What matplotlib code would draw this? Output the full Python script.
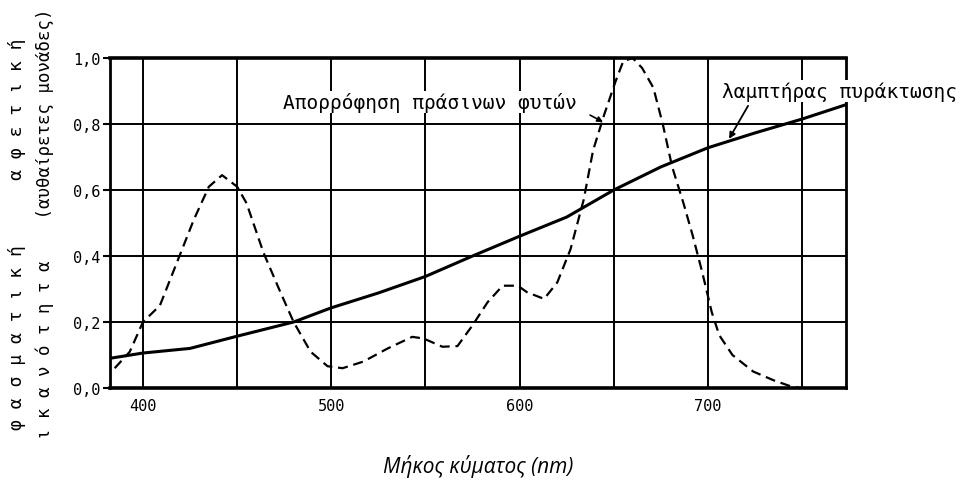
import matplotlib
matplotlib.use("Agg")
import matplotlib.pyplot as plt

# ---- data ----
wavelength_lamp = [382.5, 400, 425, 450, 480, 500, 525, 550, 575, 600, 625,
                   650, 675, 700, 725, 750, 773]
lamp = [0.09, 0.106, 0.12, 0.157, 0.20, 0.243, 0.288, 0.338, 0.40, 0.46,
        0.518, 0.60, 0.67, 0.728, 0.773, 0.815, 0.858]

wavelength_abs = [385, 393, 400, 409, 418, 427, 435, 442, 450, 455, 464, 473,
                  480, 489, 498, 506, 517, 530, 543, 549, 559, 567, 575, 583,
                  591, 599, 604, 613, 620, 627, 634, 639, 645, 651, 655, 660,
                  665, 671, 676, 681, 687, 692, 697, 702, 706, 713, 724, 735,
                  744, 749]
absorption = [0.06, 0.11, 0.20, 0.25, 0.38, 0.51, 0.61, 0.645, 0.61, 0.56,
              0.41, 0.29, 0.20, 0.11, 0.066, 0.06, 0.08, 0.12, 0.155, 0.15,
              0.125, 0.127, 0.19, 0.26, 0.31, 0.31, 0.29, 0.27, 0.32, 0.42,
              0.57, 0.72, 0.83, 0.93, 0.99, 1.0, 0.97, 0.91, 0.80, 0.67,
              0.56, 0.46, 0.35, 0.23, 0.16, 0.10, 0.05, 0.023, 0.005, 0.0]

xticks = [400, 500, 600, 700]
xtick_labels = ["400", "500", "600", "700"]
xgrid_minor = [450, 550, 650, 750]
yticks = [0.0, 0.2, 0.4, 0.6, 0.8, 1.0]
ytick_labels = ["0,0", "0,2", "0,4", "0,6", "0,8", "1,0"]

label_abs = "Απορρόφηση πράσινων φυτών"
label_lamp = "λαμπτήρας πυράκτωσης"
xlabel = "Μήκος κύματος (nm)"
ylabel_outer = "φ α σ μ α τ ι κ ή      α φ ε τ ι κ ή"
ylabel_inner = "ι κ α ν ό τ η τ α    (αυθαίρετες μονάδες)"

MONO = ["DejaVu Sans Mono"]

fig = plt.figure(figsize=(9.63, 4.89), dpi=100)
ax = fig.add_axes([110 / 963, 1 - 389 / 489, (846 - 110) / 963, (389 - 59) / 489])

ax.set_xlim(382.5, 773.3)
ax.set_ylim(0.0, 1.0)

ax.set_xticks(xticks)
ax.set_xticklabels(xtick_labels, family=MONO, fontsize=11)
ax.set_xticks(xgrid_minor, minor=True)
ax.set_yticks(yticks)
ax.set_yticklabels(ytick_labels, family=MONO, fontsize=11)

ax.tick_params(axis="x", which="both", length=0, pad=7)
ax.tick_params(axis="y", which="major", length=5, width=1.5, direction="out", pad=2)
ax.grid(True, which="both", color="black", linewidth=1.4)
ax.set_axisbelow(True)
for s in ax.spines.values():
    s.set_linewidth(2.0)
ax.spines["top"].set_linewidth(2.6)
ax.spines["bottom"].set_linewidth(2.6)

ax.plot(wavelength_lamp, lamp, color="black", linewidth=2.2, zorder=3)
line_abs, = ax.plot(wavelength_abs, absorption, color="black", linewidth=1.6,
                    zorder=3, clip_on=False)
line_abs.set_dashes((4.5, 2.6))

ax.text(474.3, 0.867, label_abs, family=MONO, fontsize=14, va="center",
        ha="left", zorder=5, bbox=dict(facecolor="white", edgecolor="none", pad=0.5))
ax.annotate("", xy=(644.3, 0.806), xytext=(637.4, 0.827),
            arrowprops=dict(arrowstyle="-|>", color="black", lw=1.2, mutation_scale=8,
                            shrinkA=0, shrinkB=0))

ax.text(707.5, 0.90, label_lamp, family=MONO, fontsize=14, va="center",
        ha="left", zorder=5, clip_on=False,
        bbox=dict(facecolor="white", edgecolor="none", pad=0.5))
ax.annotate("", xy=(711.2, 0.755), xytext=(721.3, 0.855),
            arrowprops=dict(arrowstyle="-|>", color="black", lw=1.3, mutation_scale=9,
                            shrinkA=0, shrinkB=0))

fig.text(478 / 963, 1 - 467 / 489, xlabel, family=["Open Sans", "DejaVu Sans"],
         style="italic", fontsize=15, ha="center", va="center")
fig.text(17 / 963, 1 - 234 / 489, ylabel_outer, family=MONO, fontsize=13,
         rotation=90, ha="center", va="center")
fig.text(45 / 963, 1 - 224 / 489, ylabel_inner, family=MONO, fontsize=12.5,
         rotation=90, ha="center", va="center")

fig.savefig("out.png", dpi=100, facecolor="white")
